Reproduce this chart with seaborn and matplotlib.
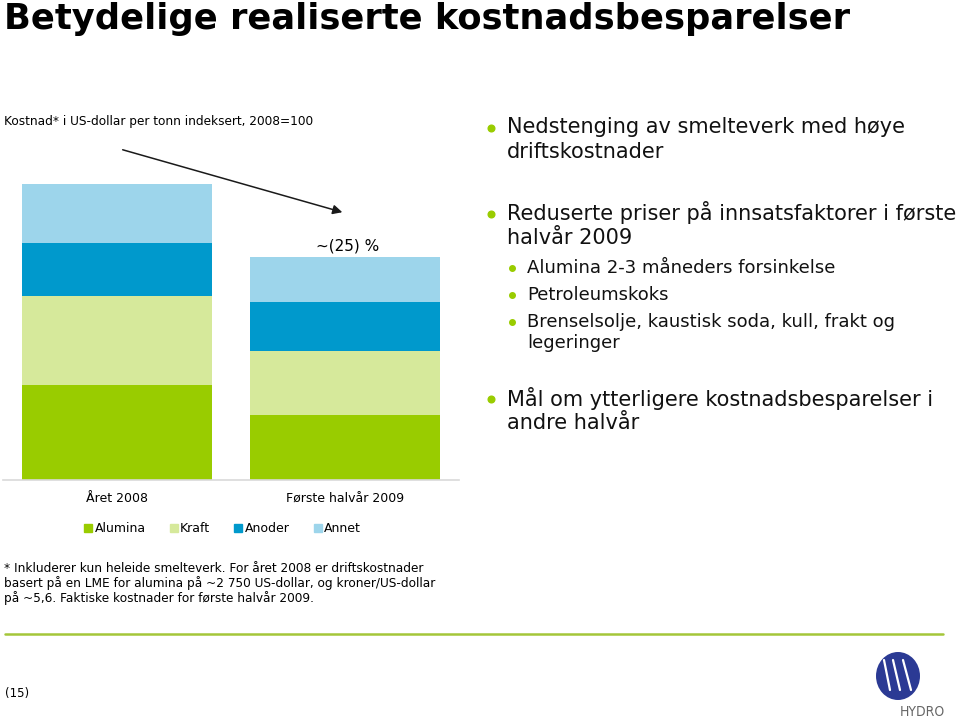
import matplotlib
matplotlib.use("Agg")
import matplotlib.pyplot as plt
import seaborn as sns
import pandas as pd
from matplotlib.lines import Line2D
from matplotlib.patches import Ellipse, FancyArrowPatch

# ---- data ----
categories = ["Året 2008", "Første halvår 2009"]
components = ["Alumina", "Kraft", "Anoder", "Annet"]
alumina = [32.0, 22.0]
kraft = [30.0, 21.5]
anoder = [18.0, 16.5]
annet = [20.0, 15.5]
reduction_label = "~(25) %"

colors = {"Alumina": "#99CC00", "Kraft": "#D6E99B", "Anoder": "#0099CC", "Annet": "#9DD5EB"}

sns.set_theme(style="white")
plt.rcParams['font.family'] = ['DejaVu Sans']
plt.rcParams['text.color'] = '#000000'

W, H = 960, 721
fig = plt.figure(figsize=(W / 100, H / 100), dpi=100)

def fx(x):
    return x / W

def fy(y):
    return 1 - y / H

# ---- chart axes ----
ax = fig.add_axes([fx(3), fy(480), (459 - 3) / W, (480 - 184) / H])

series = {"Alumina": alumina, "Kraft": kraft, "Anoder": anoder, "Annet": annet}
cum = []
running = [0.0] * len(categories)
for comp in components:
    running = [r + v for r, v in zip(running, series[comp])]
    cum.append((comp, list(running)))

# draw cumulative totals from top layer down so lower layers overlay
for comp, totals in reversed(cum):
    df = pd.DataFrame({"cat": categories, "val": totals})
    sns.barplot(data=df, x="cat", y="val", color=colors[comp], width=0.833,
                saturation=1, ax=ax, linewidth=0, edgecolor="none")

ax.set_xlim(-0.5, 1.5)
ax.set_ylim(0, 100)
ax.set_xlabel("")
ax.set_ylabel("")
ax.set_yticks([])
ax.set_xticks([0, 1])
ax.set_xticklabels(categories, fontsize=9, color="#000000")
ax.tick_params(axis="x", length=0, pad=9)
for s in ["top", "right", "left"]:
    ax.spines[s].set_visible(False)
ax.spines["bottom"].set_color("#D9D9D9")
ax.spines["bottom"].set_linewidth(1.2)

# ---- legend ----
handles = [Line2D([0], [0], marker="s", linestyle="none", markersize=5.5,
                  markerfacecolor=colors[c], markeredgecolor=colors[c]) for c in components]
fig.legend(handles, components, loc="center left", bbox_to_anchor=(fx(84), fy(529)),
           ncol=4, frameon=False, fontsize=9, handlelength=0.7, handletextpad=0.15,
           columnspacing=1.9, borderaxespad=0, borderpad=0)

# ---- arrow and reduction label ----
fig.add_artist(FancyArrowPatch(
    (fx(120), fy(149)), (fx(345), fy(213)), transform=fig.transFigure,
    arrowstyle="-|>", mutation_scale=14, color="#1a1a1a", lw=1.1))
fig.text(fx(348), fy(246), reduction_label, fontsize=11, ha="center", va="center")

# ---- title and subtitle ----
fig.text(fx(4), fy(19), "Betydelige realiserte kostnadsbesparelser", fontsize=25.4,
         fontweight="bold", ha="left", va="center")
fig.text(fx(4), fy(122), "Kostnad* i US-dollar per tonn indeksert, 2008=100", fontsize=8.7,
         ha="left", va="center")

# ---- bullets on the right ----
green = "#99CC00"
main_lines = [
    (127, ["Nedstenging av smelteverk med høye", "driftskostnader"]),
    (213, ["Reduserte priser på innsatsfaktorer i første", "halvår 2009"]),
    (398, ["Mål om ytterligere kostnadsbesparelser i", "andre halvår"]),
]
for y0, lines in main_lines:
    fig.add_artist(Line2D([fx(491)], [fy(y0 + 1)], marker="o", markersize=4.8, color=green,
                          transform=fig.transFigure))
    for i, t in enumerate(lines):
        fig.text(fx(507), fy(y0 + 25 * i), t, fontsize=15, ha="left", va="center", color="#111111")

sub_lines = [
    (268, ["Alumina 2-3 måneders forsinkelse"]),
    (295, ["Petroleumskoks"]),
    (322, ["Brenselsolje, kaustisk soda, kull, frakt og", "legeringer"]),
]
for y0, lines in sub_lines:
    fig.add_artist(Line2D([fx(512)], [fy(y0)], marker="o", markersize=4, color=green,
                          transform=fig.transFigure))
    for i, t in enumerate(lines):
        fig.text(fx(527), fy(y0 + 21 * i), t, fontsize=13, ha="left", va="center", color="#111111")

# ---- footnote ----
foot = [
    "* Inkluderer kun heleide smelteverk. For året 2008 er driftskostnader",
    "basert på en LME for alumina på ~2 750 US-dollar, og kroner/US-dollar",
    "på ~5,6. Faktiske kostnader for første halvår 2009.",
]
for i, t in enumerate(foot):
    fig.text(fx(4), fy(568 + 15 * i), t, fontsize=8.7, ha="left", va="center")

# ---- footer line, page number, logo ----
fig.add_artist(Line2D([fx(5), fx(943)], [fy(634), fy(634)], color="#A4C639", lw=1.8,
                      transform=fig.transFigure))
fig.text(fx(5), fy(693), "(15)", fontsize=8.5, ha="left", va="center")

logo = Ellipse((fx(898), fy(676)), 44 / W, 48 / H, transform=fig.transFigure,
               facecolor="#2B3A94", edgecolor="none")
fig.add_artist(logo)
for x0, x1 in [(884, 890), (893, 900), (903, 911)]:
    fig.add_artist(Line2D([fx(x0), fx(x1)], [fy(660), fy(690)], color="white", lw=1.6,
                          transform=fig.transFigure))
fig.text(fx(922), fy(712), "HYDRO", fontsize=10, ha="center", va="center",
         color="#666666", fontstretch="condensed")

fig.savefig("out.png", dpi=100)
